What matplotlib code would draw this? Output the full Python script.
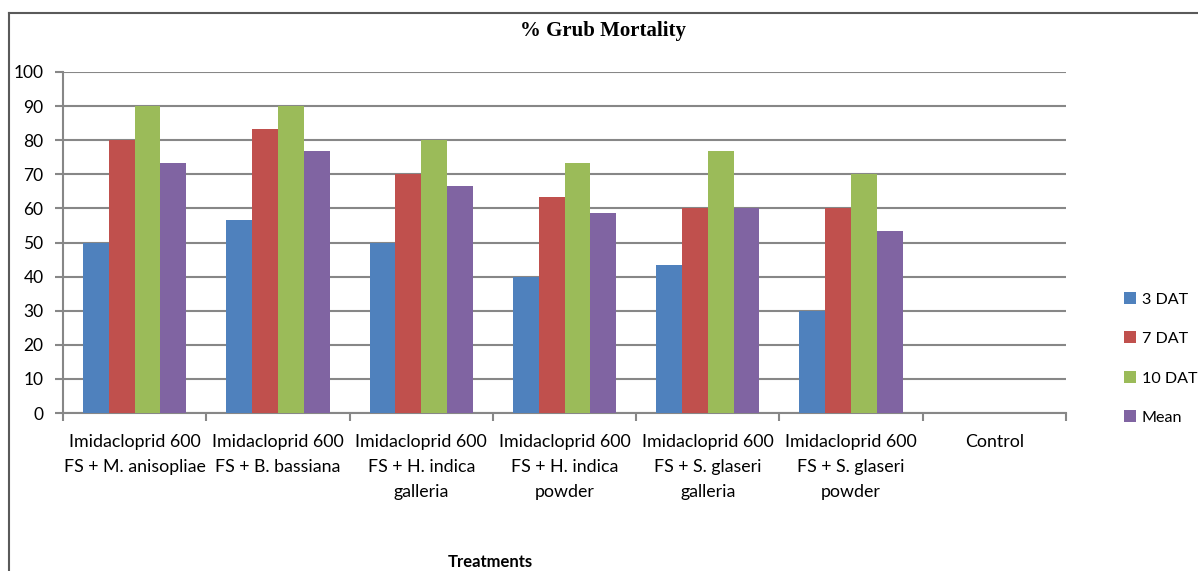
import matplotlib
matplotlib.use("Agg")
import matplotlib.pyplot as plt
import numpy as np
from matplotlib.lines import Line2D

categories = [
    "Imidacloprid 600\nFS + M. anisopliae",
    "Imidacloprid 600\nFS + B. bassiana",
    "Imidacloprid 600\nFS + H. indica\ngalleria",
    "Imidacloprid 600\nFS + H. indica\npowder",
    "Imidacloprid 600\nFS + S. glaseri\ngalleria",
    "Imidacloprid 600\nFS + S. glaseri\npowder",
    "Control",
]
series_names = ["3 DAT", "7 DAT", "10 DAT", "Mean"]
dat3 = [50, 56.7, 50, 40, 43.3, 30, 0]
dat7 = [80, 83.3, 70, 63.3, 60, 60, 0]
dat10 = [90, 90, 80, 73.3, 76.7, 70, 0]
mean = [73.3, 76.7, 66.7, 58.7, 60, 53.3, 0]
colors = ["#4F81BD", "#C0504D", "#9BBB59", "#8064A2"]

W, H = 1198, 571
fig = plt.figure(figsize=(W/100, H/100), dpi=100)
ax = fig.add_axes([63/W, 1-413/H, (1066-63)/W, (413-72)/H])

font = "Lato"
x = np.arange(len(categories))
bw = 0.18
all_series = [dat3, dat7, dat10, mean]
for i, (vals, c, name) in enumerate(zip(all_series, colors, series_names)):
    ax.bar(x + (i - 1.5) * bw, vals, width=bw, color=c, label=name, zorder=3)

ax.set_xlim(-0.5, len(categories) - 0.5)
ax.set_ylim(0, 100)
ax.set_yticks(range(0, 101, 10))
ax.set_yticklabels([str(v) for v in range(0, 101, 10)], fontfamily=font, fontsize=12.5)
ax.yaxis.grid(True, color="#878787", linewidth=1.5, zorder=0)
ax.set_axisbelow(True)
ax.set_xticks(np.arange(-0.5, len(categories), 1.0))
ax.set_xticklabels([])
ax.set_xticks(x, minor=True)
ax.set_xticklabels(categories, minor=True, fontfamily=font, fontsize=12.8, linespacing=1.68, va="top")
ax.tick_params(axis="x", which="minor", length=0, pad=15)
ax.tick_params(axis="x", which="major", length=6, color="#878787", width=1.5)
ax.tick_params(axis="y", length=6, color="#878787", width=1.5, pad=8)
for s in ["top", "right"]:
    ax.spines[s].set_visible(False)
for s in ["left", "bottom"]:
    ax.spines[s].set_color("#878787")
    ax.spines[s].set_linewidth(1.5)

fig.text(603/W, 1-31/H, "% Grub Mortality", ha="center", va="center",
         fontfamily="Liberation Serif", fontweight="bold", fontsize=15)
fig.text(490/W, 1-562/H, "Treatments", ha="center", va="center",
         fontfamily=font, fontweight="bold", fontsize=12)

leg = fig.legend(loc="upper left", bbox_to_anchor=(1124/W, 1-292/H), frameon=False,
                 prop={"family": font, "size": 11.6}, handlelength=0.75, handleheight=0.75,
                 handletextpad=0.35, labelspacing=1.55, borderpad=0, borderaxespad=0)

fig.add_artist(Line2D([9/W, 1], [1-13/H, 1-13/H], color="#5a5a5a", linewidth=1.5, transform=fig.transFigure))
fig.add_artist(Line2D([9/W, 9/W], [1-13/H, 0], color="#5a5a5a", linewidth=1.5, transform=fig.transFigure))

fig.savefig("out.png", dpi=100)
